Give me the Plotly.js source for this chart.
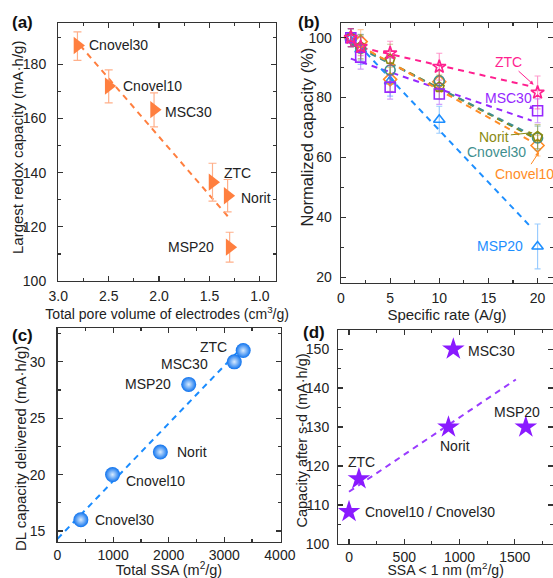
<!DOCTYPE html>
<html>
<head>
<meta charset="utf-8">
<script src="https://cdn.plot.ly/plotly-3.0.1.min.js"></script>
<style>html,body{margin:0;padding:0;background:#fff;}#chart{width:553px;height:578px;}</style>
</head>
<body>
<div id="chart"></div>
<script>
// ---------- DATA ----------
// (a) largest redox capacity vs total pore volume
const aNames = ['Cnovel30', 'Cnovel10', 'MSC30', 'ZTC', 'Norit', 'MSP20'];
const aPoreVolume = [2.81, 2.50, 2.05, 1.47, 1.32, 1.30];
const aCapacity = [187, 172, 163.3, 136.5, 131.5, 112.5];
const aErrPlus = [5, 6, 6.2, 7, 6, 5.5];
const aErrMinus = [5.5, 6.2, 6.4, 7, 6, 5.5];
const aFitX = [2.785, 1.30];
const aFitY = [187.1, 123.1];

// (b) normalized capacity vs specific rate
const bRates = [1, 2, 5, 10, 20];
const bSeriesNames = ['ZTC', 'MSC30', 'Norit', 'Cnovel30', 'Cnovel10', 'MSP20'];
const bZTC = [100, 97, 94.8, 90.3, 81.7];
const bMSC30 = [100, 93.5, 83.5, 81.2, 75.6];
const bNorit = [100, 97, 92.8, 83.5, 67];
const bCnovel30 = [100, 96.5, 89.2, 85.6, 66.5];
const bCnovel10 = [100, 98.7, 86.1, 85.3, 64];
const bMSP20 = [100, 96.1, 85.5, 72.6, 30.3];
const bZTCErr = [3, 3, 4, 4.5, 5.5];
const bMSC30Err = [3, 4, 4, 3.5, 4];
const bNoritErr = [3, 4, 5, 4, 4];
const bCnovel30Err = [3, 4, 4, 3.5, 4];
const bCnovel10Err = [3, 4, 4, 3.5, 3.5];
const bMSP20Err = [3, 5, 5, 4.5, 7.5];
const bFitX = [1, 19.4];
const bZTCFit = [97.5, 83.7];
const bMSC30Fit = [93, 72.3];
const bNoritFit = [98.5, 67];
const bCnovel30Fit = [98, 67.5];
const bCnovel10Fit = [99, 65.3];
const bMSP20Fit = [100.3, 36.5];

// (c) DL capacity vs total SSA
const cNames = ['Cnovel30', 'Cnovel10', 'Norit', 'MSP20', 'MSC30', 'ZTC'];
const cSSA = [420, 990, 1850, 2360, 3180, 3340];
const cDL = [16, 20, 22, 28, 30, 31];
const cFitX = [0, 3400];
const cFitY = [14.3, 31.7];

// (d) capacity after self-discharge vs SSA < 1 nm
const dNames = ['Cnovel10 / Cnovel30', 'ZTC', 'Norit', 'MSC30', 'MSP20'];
const dSSA1nm = [0, 90, 900, 944, 1600];
const dCapacity = [108.3, 116.7, 130, 150, 130];
const dFitX = [0, 1510];
const dFitY = [113.4, 142.2];

// axis titles
const yTitles = ['Largest redox capacity (mA·h/g)', 'Normalized capacity (%)',
  'DL capacity delivered (mA·h/g)', 'Capacity after s-d (mA·h/g)'];
const xTitles = ['Total pore volume of electrodes (cm<sup>3</sup>/g)', 'Specific rate (A/g)',
  'Total SSA (m<sup>2</sup>/g)', 'SSA &lt; 1 nm (m<sup>2</sup>/g)'];

// ---------- STYLE ----------
const FONT = 'Liberation Sans, Arial, sans-serif';
const TXT = '#222';
const ORANGE = '#ff7f3f';
const BCOL = {
  ZTC: '#ff1f8f', MSC30: '#9628ff', Norit: '#8a8a10',
  Cnovel30: '#3f8f8f', Cnovel10: '#ff8c26', MSP20: '#1e8fff'
};
const BSYM = {
  ZTC: 'star-open', MSC30: 'square-open', Norit: 'pentagon-open',
  Cnovel30: 'circle-open', Cnovel10: 'diamond-open', MSP20: 'triangle-up-open'
};
const bVals = {ZTC: bZTC, MSC30: bMSC30, Norit: bNorit, Cnovel30: bCnovel30, Cnovel10: bCnovel10, MSP20: bMSP20};
const bErrs = {ZTC: bZTCErr, MSC30: bMSC30Err, Norit: bNoritErr, Cnovel30: bCnovel30Err, Cnovel10: bCnovel10Err, MSP20: bMSP20Err};
const bFits = {ZTC: bZTCFit, MSC30: bMSC30Fit, Norit: bNoritFit, Cnovel30: bCnovel30Fit, Cnovel10: bCnovel10Fit, MSP20: bMSP20Fit};
const DASH = '6px,5px';

function hexA(hex, a) {
  const n = parseInt(hex.slice(1), 16);
  return 'rgba(' + ((n >> 16) & 255) + ',' + ((n >> 8) & 255) + ',' + (n & 255) + ',' + a + ')';
}

const traces = [];
// (a)
traces.push({x: aFitX, y: aFitY, xaxis: 'x', yaxis: 'y', mode: 'lines',
  line: {color: ORANGE, width: 2, dash: DASH}});
traces.push({x: aPoreVolume, y: aCapacity, xaxis: 'x', yaxis: 'y', mode: 'markers',
  marker: {symbol: 'triangle-right', size: 15, color: ORANGE},
  error_y: {type: 'data', symmetric: false, array: aErrPlus, arrayminus: aErrMinus,
    color: '#ffb08a', thickness: 1.2, width: 4}});
// (b)
bSeriesNames.forEach(function (s) {
  traces.push({x: bFitX, y: bFits[s], xaxis: 'x2', yaxis: 'y2', mode: 'lines',
    line: {color: BCOL[s], width: 2, dash: DASH}});
});
bSeriesNames.slice().reverse().forEach(function (s) {
  traces.push({x: bRates, y: bVals[s], xaxis: 'x2', yaxis: 'y2', mode: 'markers',
    marker: {symbol: BSYM[s], size: 10, color: BCOL[s], line: {width: 1.6, color: BCOL[s]}},
    error_y: {type: 'data', array: bErrs[s], color: hexA(BCOL[s], 0.45), thickness: 1.2, width: 3}});
});
// (c)
traces.push({x: cFitX, y: cFitY, xaxis: 'x3', yaxis: 'y3', mode: 'lines',
  line: {color: '#1a8cff', width: 2, dash: DASH}});
traces.push({x: cSSA, y: cDL, xaxis: 'x3', yaxis: 'y3', mode: 'markers',
  marker: {symbol: 'circle', size: 15, color: '#0d72ee',
    gradient: {type: 'radial', color: '#d8ebff'}, line: {width: 0}}});
// (d)
traces.push({x: dFitX, y: dFitY, xaxis: 'x4', yaxis: 'y4', mode: 'lines',
  line: {color: '#9a3cff', width: 2, dash: DASH}});
traces.push({x: dSSA1nm, y: dCapacity, xaxis: 'x4', yaxis: 'y4', mode: 'markers',
  marker: {symbol: 'star', size: 17, color: '#8a1aff', line: {width: 0}}});

// ---------- AXES ----------
function ax(extra) {
  return Object.assign({
    showgrid: false, zeroline: false, showline: true, linecolor: '#333', linewidth: 1.3,
    mirror: 'allticks', ticks: 'inside', ticklen: 5, tickwidth: 1.2, tickcolor: '#333',
    tickfont: {family: FONT, size: 14, color: TXT},
    minor: {ticks: 'inside', ticklen: 3, tickwidth: 1, tickcolor: '#333'},
    fixedrange: true
  }, extra);
}
function ttl(text, size, standoff) {
  return {text: text, font: {family: FONT, size: size, color: TXT}, standoff: standoff};
}
const H = 578, W = 553;
function dx(a, b) { return [a / W, b / W]; }
function dy(top, bottom) { return [1 - bottom / H, 1 - top / H]; }

const annotations = [];
function panelLabel(t, px, py) {
  annotations.push({text: '<b>' + t + '</b>', xref: 'paper', yref: 'paper', x: px / W, y: 1 - py / H,
    showarrow: false, xanchor: 'center', yanchor: 'middle', font: {family: FONT, size: 17, color: '#111'}});
}
panelLabel('(a)', 22, 22);
panelLabel('(b)', 309, 22);
panelLabel('(c)', 22, 335);
panelLabel('(d)', 314, 333);

// y-axis titles (rotated), placed in paper pixels
function yTitle(text, px, py, size) {
  annotations.push({text: text, xref: 'paper', yref: 'paper', x: px / W, y: 1 - py / H,
    textangle: -90, showarrow: false, xanchor: 'center', yanchor: 'middle',
    font: {family: FONT, size: size, color: TXT}});
}
yTitle(yTitles[0], 18, 148, 15);
yTitle(yTitles[1], 306.5, 137, 16.5);
yTitle(yTitles[2], 20, 449, 15);
yTitle(yTitles[3], 301.5, 441, 14.5);

function ptLabel(xr, yr, x, y, text, anchor, xs, ys, color) {
  annotations.push({text: text, xref: xr, yref: yr, x: x, y: y, showarrow: false,
    xanchor: anchor, yanchor: 'middle', xshift: xs, yshift: ys,
    font: {family: FONT, size: 14, color: color || TXT}});
}
// (a) labels: [anchor, xshift, yshift]
const aLabelPos = [['left', 10, 0], ['left', 12, 0], ['left', 9, -2], ['left', 9, 9], ['left', 11, -2], ['right', -14, 0]];
aNames.forEach(function (n, i) {
  ptLabel('x', 'y', aPoreVolume[i], aCapacity[i], n, aLabelPos[i][0], aLabelPos[i][1], aLabelPos[i][2]);
});
// (c) labels
const cLabelPos = [['left', 12, 0], ['left', 11, -6], ['left', 15, 0], ['right', -16, 0], ['right', -24, -2], ['right', -14, 4]];
cNames.forEach(function (n, i) {
  ptLabel('x3', 'y3', cSSA[i], cDL[i], n, cLabelPos[i][0], cLabelPos[i][1], cLabelPos[i][2]);
});
// (d) labels
const dLabelPos = [['left', 14, 0], ['center', 3, 17], ['center', 7, -19], ['left', 13, -2], ['center', -9, 15]];
dNames.forEach(function (n, i) {
  ptLabel('x4', 'y4', dSSA1nm[i], dCapacity[i], n, dLabelPos[i][0], dLabelPos[i][1], dLabelPos[i][2]);
});
// (b) labels: text position and optional arrow head (axis units)
const bLabelPos = {
  ZTC: {tx: 17.0, ty: 92, hx: 19.6, hy: 84.3},
  MSC30: {tx: 17.0, ty: 79.8, hx: 19.6, hy: 76.3},
  Norit: {tx: 15.6, ty: 67, hx: 19.5, hy: 68.3},
  Cnovel30: {tx: 15.85, ty: 61.8},
  Cnovel10: {tx: 18.7, ty: 54.6, hx: 20.15, hy: 61.8},
  MSP20: {tx: 16.2, ty: 30.3}
};
bSeriesNames.forEach(function (s) {
  const p = bLabelPos[s];
  if (p.hx !== undefined) {
    annotations.push({text: s, xref: 'x2', yref: 'y2', axref: 'x2', ayref: 'y2',
      x: p.hx, y: p.hy, ax: p.tx, ay: p.ty, showarrow: true,
      arrowhead: 2, arrowsize: 0.8, arrowwidth: 1, arrowcolor: BCOL[s],
      font: {family: FONT, size: 14, color: BCOL[s]}});
  } else {
    annotations.push({text: s, xref: 'x2', yref: 'y2', x: p.tx, y: p.ty, showarrow: false,
      font: {family: FONT, size: 14, color: BCOL[s]}});
  }
});

const layout = {
  width: W, height: H,
  margin: {l: 0, r: 0, t: 0, b: 0, pad: 0},
  paper_bgcolor: '#fff', plot_bgcolor: '#fff',
  showlegend: false, hovermode: false,
  font: {family: FONT, color: TXT},
  xaxis: ax({domain: dx(58.3, 276), range: [3.0, 0.84], dtick: 0.5, tick0: 0,
    tickformat: '.1f', minor: {ticks: 'inside', ticklen: 3, dtick: 0.25, tickcolor: '#333'},
    anchor: 'y', ticklabelstandoff: 2, title: ttl(xTitles[0], 14, 2)}),
  yaxis: ax({domain: dy(23, 281), range: [100, 195.3], dtick: 20,
    minor: {ticks: 'inside', ticklen: 3, dtick: 10, tickcolor: '#333'},
    anchor: 'x', ticklabelstandoff: 8}),
  xaxis2: ax({domain: dx(341, 553), range: [0, 21.57], dtick: 5,
    minor: {ticks: 'inside', ticklen: 3, dtick: 2.5, tickcolor: '#333'},
    anchor: 'y2', ticklabelstandoff: 2, title: ttl(xTitles[1], 15, 2)}),
  yaxis2: ax({domain: dy(23.3, 282.7), range: [18.2, 104.8], dtick: 20,
    minor: {ticks: 'inside', ticklen: 3, dtick: 10, tickcolor: '#333'},
    anchor: 'x2', ticklabelstandoff: 5}),
  xaxis3: ax({domain: dx(57.5, 280.5), range: [0, 4011], dtick: 1000,
    minor: {ticks: 'inside', ticklen: 3, dtick: 500, tickcolor: '#333'},
    anchor: 'y3', ticklabelstandoff: 0, title: ttl(xTitles[2], 14.5, 3)}),
  yaxis3: ax({domain: dy(328, 541.7), range: [14.05, 33.0], dtick: 5,
    minor: {ticks: 'inside', ticklen: 3, dtick: 2.5, tickcolor: '#333'},
    anchor: 'x3', ticklabelstandoff: 8}),
  xaxis4: ax({domain: dx(338.3, 553), range: [-97, 1846], dtick: 500, tick0: 0,
    minor: {ticks: 'inside', ticklen: 3, dtick: 250, tickcolor: '#333'},
    anchor: 'y4', ticklabelstandoff: 0, title: ttl(xTitles[3], 14, 4)}),
  yaxis4: ax({domain: dy(330, 544), range: [100, 154.9], dtick: 10,
    minor: {ticks: 'inside', ticklen: 3, dtick: 5, tickcolor: '#333'},
    anchor: 'x4', ticklabelstandoff: 5}),
  annotations: annotations
};

Plotly.newPlot('chart', traces, layout, {staticPlot: true, displayModeBar: false});
</script>
</body>
</html>
